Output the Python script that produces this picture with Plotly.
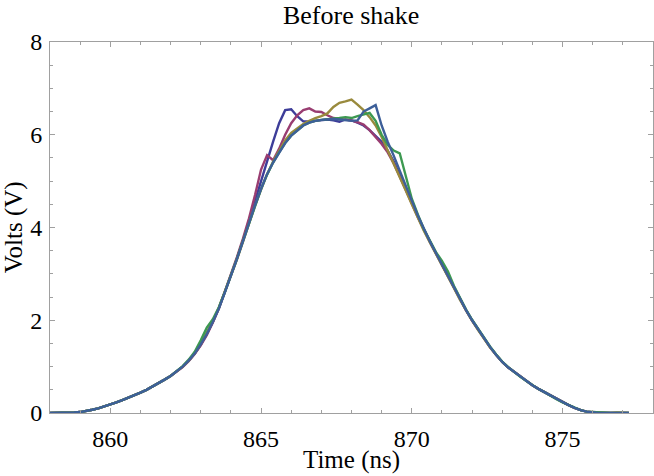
import plotly.graph_objects as go

# time axis (ns), one sample every 0.2 ns
time_ns = [
    858.0, 858.2, 858.4, 858.6, 858.8, 859.0, 859.2, 859.4, 859.6, 859.8,
    860.0, 860.2, 860.4, 860.6, 860.8, 861.0, 861.2, 861.4, 861.6, 861.8,
    862.0, 862.2, 862.4, 862.6, 862.8, 863.0, 863.2, 863.4, 863.6, 863.8,
    864.0, 864.2, 864.4, 864.6, 864.8, 865.0, 865.2, 865.4, 865.6, 865.8,
    866.0, 866.2, 866.4, 866.6, 866.8, 867.0, 867.2, 867.4, 867.6, 867.8,
    868.0, 868.2, 868.4, 868.6, 868.8, 869.0, 869.2, 869.4, 869.6, 869.8,
    870.0, 870.2, 870.4, 870.6, 870.8, 871.0, 871.2, 871.4, 871.6, 871.8,
    872.0, 872.2, 872.4, 872.6, 872.8, 873.0, 873.2, 873.4, 873.6, 873.8,
    874.0, 874.2, 874.4, 874.6, 874.8, 875.0, 875.2, 875.4, 875.6, 875.8,
    876.0, 876.2, 876.4, 876.6, 876.8, 877.0, 877.2,
]

volts_1 = [
    0, 0, 0, 0, 0.01, 0.02, 0.04, 0.07, 0.10, 0.14,
    0.19, 0.23, 0.28, 0.33, 0.38, 0.44, 0.50, 0.57, 0.64, 0.72,
    0.80, 0.90, 1.00, 1.13, 1.28, 1.47, 1.70, 1.96, 2.25, 2.60,
    2.96, 3.33, 3.72, 4.15, 4.60, 5.02, 5.42, 5.85, 6.25, 6.53,
    6.55, 6.40, 6.29, 6.28, 6.30, 6.32, 6.33, 6.31, 6.28, 6.33,
    6.31, 6.26, 6.20, 6.10, 5.98, 5.85, 5.66, 5.42, 5.13, 4.84,
    4.54, 4.24, 3.95, 3.70, 3.45, 3.20, 2.95, 2.70, 2.45, 2.22,
    2.00, 1.80, 1.60, 1.42, 1.25, 1.10, 0.98, 0.88, 0.78, 0.69,
    0.60, 0.52, 0.45, 0.37, 0.30, 0.23, 0.17, 0.11, 0.06, 0.03,
    0.01, 0, 0, 0, 0, 0, 0,
]

volts_2 = [
    0, 0, 0, 0, 0.01, 0.02, 0.04, 0.07, 0.10, 0.14,
    0.19, 0.23, 0.28, 0.33, 0.38, 0.44, 0.50, 0.57, 0.64, 0.72,
    0.80, 0.89, 0.99, 1.12, 1.27, 1.46, 1.68, 1.95, 2.26, 2.62,
    2.98, 3.36, 3.76, 4.20, 4.70, 5.25, 5.56, 5.45, 5.70, 6.00,
    6.25, 6.42, 6.53, 6.57, 6.50, 6.49, 6.42, 6.36, 6.34, 6.33,
    6.31, 6.27, 6.22, 6.10, 5.95, 5.80, 5.62, 5.38, 5.10, 4.82,
    4.52, 4.22, 3.94, 3.69, 3.44, 3.19, 2.94, 2.69, 2.44, 2.21,
    1.99, 1.79, 1.59, 1.41, 1.25, 1.10, 0.98, 0.88, 0.78, 0.69,
    0.60, 0.52, 0.45, 0.37, 0.30, 0.23, 0.17, 0.11, 0.06, 0.03,
    0.01, 0, 0, 0, 0, 0, 0,
]

volts_3 = [
    0, 0, 0, 0, 0.01, 0.02, 0.04, 0.07, 0.10, 0.14,
    0.19, 0.23, 0.28, 0.33, 0.38, 0.44, 0.50, 0.57, 0.64, 0.72,
    0.80, 0.90, 1.00, 1.13, 1.29, 1.49, 1.72, 1.98, 2.27, 2.61,
    2.95, 3.31, 3.69, 4.09, 4.47, 4.82, 5.15, 5.42, 5.66, 5.88,
    6.04, 6.14, 6.23, 6.30, 6.36, 6.40, 6.46, 6.60, 6.69, 6.72,
    6.76, 6.65, 6.53, 6.38, 6.20, 5.95, 5.67, 5.38, 5.09, 4.80,
    4.50, 4.21, 3.93, 3.68, 3.44, 3.19, 2.94, 2.69, 2.44, 2.21,
    1.99, 1.79, 1.59, 1.41, 1.25, 1.10, 0.98, 0.88, 0.78, 0.69,
    0.60, 0.52, 0.45, 0.37, 0.30, 0.23, 0.17, 0.11, 0.06, 0.03,
    0.02, 0.01, 0.01, 0, 0.01, 0.01, 0,
]

volts_4 = [
    0, 0, 0, 0, 0.01, 0.02, 0.04, 0.07, 0.10, 0.14,
    0.19, 0.23, 0.28, 0.33, 0.38, 0.44, 0.50, 0.57, 0.64, 0.72,
    0.80, 0.90, 1.01, 1.15, 1.32, 1.57, 1.84, 2.02, 2.28, 2.61,
    2.96, 3.33, 3.71, 4.10, 4.48, 4.83, 5.14, 5.40, 5.62, 5.82,
    5.98, 6.10, 6.20, 6.26, 6.30, 6.32, 6.33, 6.35, 6.36, 6.38,
    6.36, 6.40, 6.44, 6.47, 6.30, 6.00, 5.78, 5.66, 5.60, 5.10,
    4.62, 4.28, 3.97, 3.72, 3.47, 3.28, 3.05, 2.74, 2.47, 2.23,
    2.01, 1.81, 1.61, 1.43, 1.26, 1.11, 0.99, 0.88, 0.78, 0.69,
    0.60, 0.52, 0.45, 0.37, 0.30, 0.23, 0.17, 0.11, 0.06, 0.03,
    0.02, 0.01, 0.01, 0, 0, 0, 0,
]

volts_5 = [
    0, 0, 0, 0, 0.01, 0.02, 0.04, 0.07, 0.10, 0.14,
    0.19, 0.23, 0.28, 0.33, 0.38, 0.44, 0.50, 0.57, 0.64, 0.72,
    0.80, 0.90, 1.00, 1.13, 1.28, 1.48, 1.70, 1.96, 2.25, 2.60,
    2.95, 3.32, 3.70, 4.10, 4.48, 4.83, 5.15, 5.40, 5.62, 5.82,
    5.98, 6.10, 6.20, 6.26, 6.30, 6.32, 6.33, 6.34, 6.33, 6.32,
    6.30, 6.31, 6.50, 6.57, 6.64, 6.20, 5.85, 5.55, 5.24, 4.90,
    4.58, 4.26, 3.96, 3.70, 3.45, 3.20, 2.95, 2.70, 2.45, 2.22,
    2.00, 1.80, 1.60, 1.42, 1.25, 1.10, 0.98, 0.88, 0.78, 0.69,
    0.60, 0.52, 0.45, 0.37, 0.30, 0.23, 0.17, 0.11, 0.06, 0.03,
    0.01, 0, 0, 0, 0, 0, 0,
]

series = [volts_1, volts_2, volts_3, volts_4, volts_5]
colors = ['#3D3D99', '#993D71', '#998A3D', '#3D9951', '#3D5F99']

fig = go.Figure()
for v, c in zip(series, colors):
    fig.add_trace(go.Scatter(x=time_ns, y=v, mode='lines',
                             line=dict(color=c, width=2.4), showlegend=False))

serif = 'Liberation Serif, Times New Roman, serif'
axis_style = dict(showline=True, linecolor='#a0a0a0', linewidth=1, mirror='allticks',
                  ticks='inside', ticklen=5, tickcolor='#a0a0a0', tickwidth=1,
                  showgrid=False, zeroline=False, automargin=False,
                  tickfont=dict(family=serif, size=24, color='black'))

fig.update_xaxes(range=[858, 878], dtick=5, tick0=860, ticklabelstandoff=4,
                 minor=dict(ticks='inside', dtick=1, ticklen=3, tickcolor='#a0a0a0'),
                 **axis_style)
fig.update_yaxes(range=[0, 8], dtick=2, ticklabelstandoff=2,
                 minor=dict(ticks='inside', dtick=0.5, ticklen=3, tickcolor='#a0a0a0'),
                 **axis_style)

fig.add_annotation(text='Time (ns)', xref='paper', yref='paper', x=0.5, y=-0.127,
                   xanchor='center', yanchor='middle', showarrow=False,
                   font=dict(family=serif, size=25, color='black'))
fig.add_annotation(text='Volts (V)', xref='paper', yref='paper', x=-0.06, y=0.5,
                   xanchor='center', yanchor='middle', showarrow=False, textangle=-90,
                   font=dict(family=serif, size=25, color='black'))

fig.update_layout(width=654, height=476, plot_bgcolor='white', paper_bgcolor='white',
                  margin=dict(l=50, r=1, t=42, b=63),
                  title=dict(text='Before shake', x=0.537, xanchor='center',
                             y=0.968, yanchor='middle',
                             font=dict(family=serif, size=26, color='black')))

# page body has a default margin; drop it so the figure sits at the window corner
fig.write_html("out.html", config={'displayModeBar': False},
               post_script="document.body.style.margin='0';")
